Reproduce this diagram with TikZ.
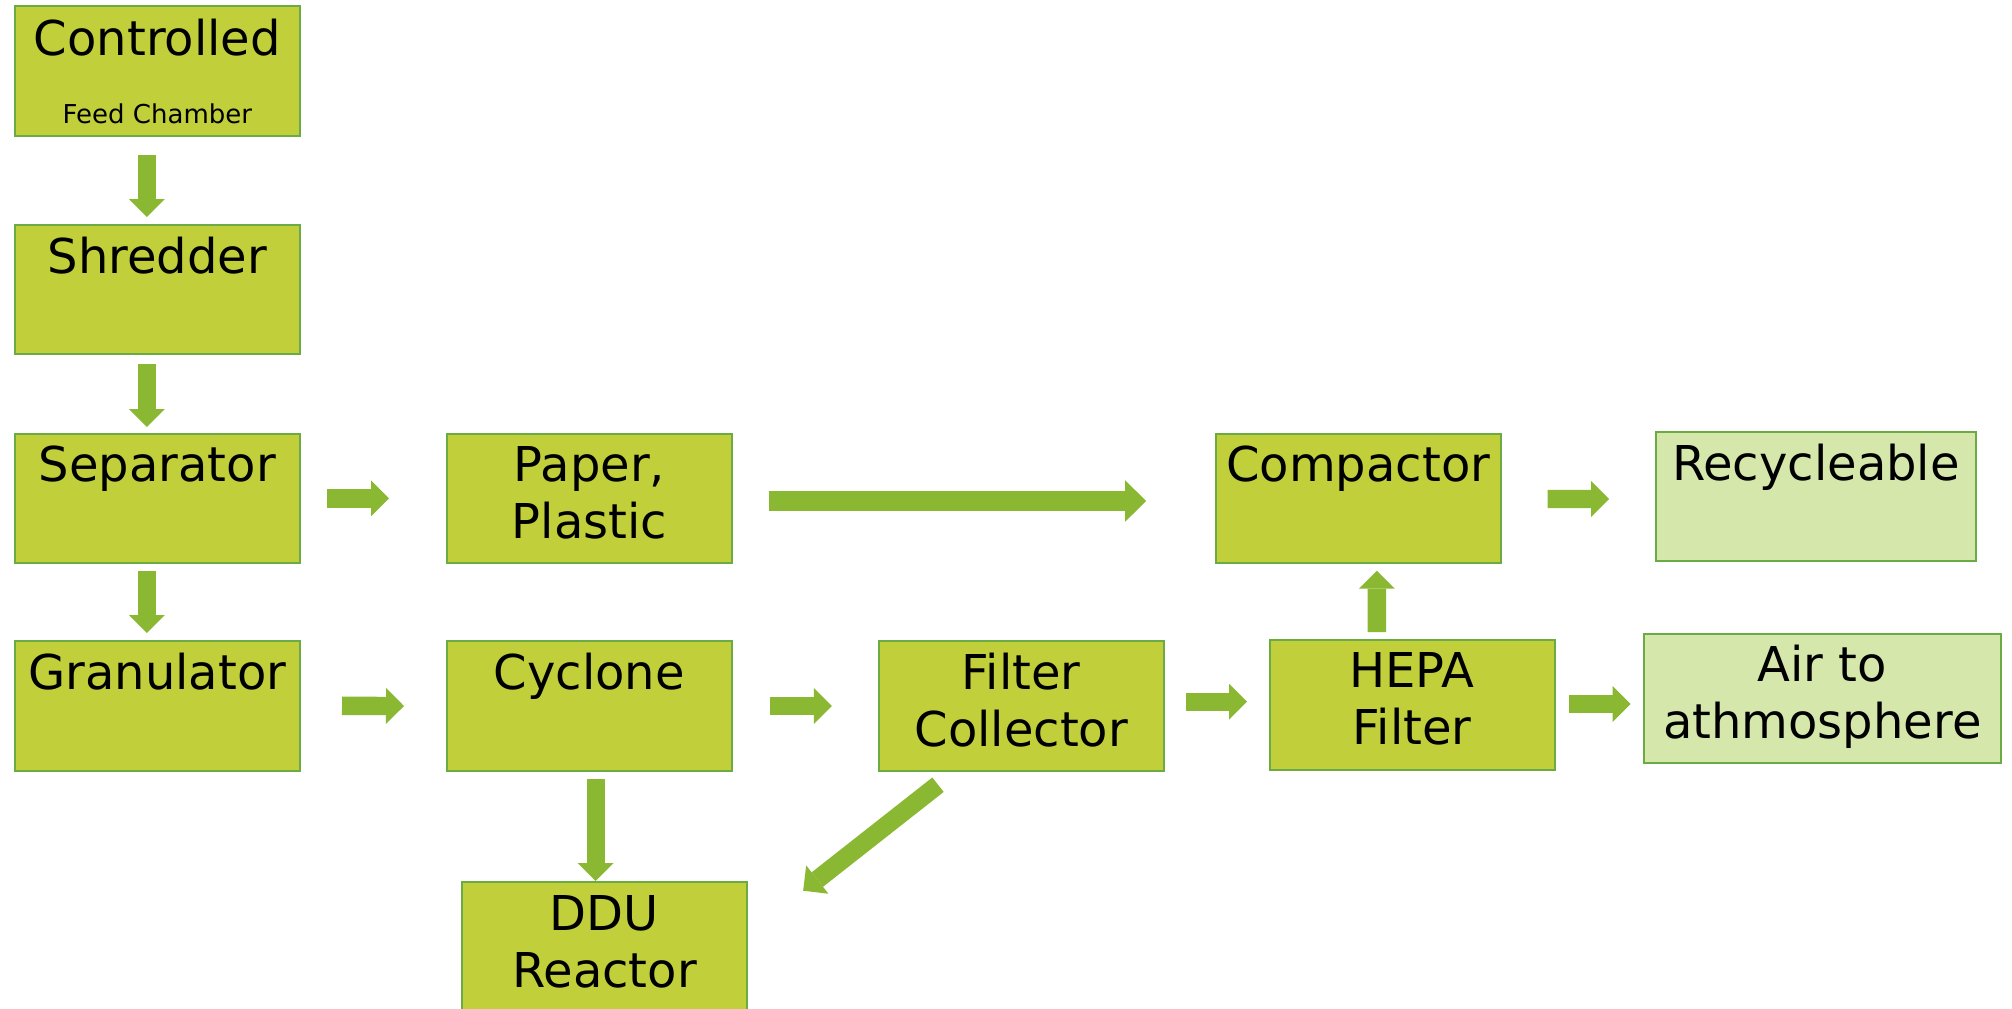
\documentclass[tikz,border=0pt]{standalone}
\usepackage{fontspec}
\setmainfont{DejaVu Sans}
\usetikzlibrary{arrows.meta,calc}
\definecolor{boxfill}{HTML}{C0CF3A}
\definecolor{boxline}{HTML}{6AAB44}
\definecolor{lightfill}{HTML}{D5E7AB}
\definecolor{arrowc}{HTML}{8BB833}
\begin{document}
\begin{tikzpicture}[x=0.5pt,y=0.5pt,
  procbox/.style={draw=boxline, fill=boxfill, line width=1pt, inner sep=0pt,
    minimum width=142.65pt, minimum height=65pt},
  lightbox/.style={procbox, fill=lightfill},
  lbl/.style={anchor=base, inner sep=0pt, align=center,
    font=\fontsize{24pt}{28.5pt}\selectfont},
  smalllbl/.style={anchor=base, inner sep=0pt, font=\fontsize{13pt}{15pt}\selectfont},
  barrow/.style={draw=arrowc, line width=9.2pt,
    -{Triangle[length=9pt,width=18pt,line width=0pt]}},
  bigarrow/.style={draw=arrowc, line width=10pt,
    -{Triangle[length=10.5pt,width=20.8pt,line width=0pt]}}]
\useasboundingbox (0,0) rectangle (2012,-1008);
% boxes
\node[procbox] (ctrl) at (157.35,-70.7) {};
\node[procbox, minimum height=64.5pt] (shred) at (157.35,-289.5) {};
\node[procbox, minimum height=64.65pt] (sep) at (157.35,-498.35) {};
\node[procbox, minimum height=64.85pt] (gran) at (157.35,-705.85) {};
\node[procbox, minimum height=64.65pt] (paper) at (589.35,-498.35) {};
\node[procbox] (cyc) at (589.35,-706) {};
\node[procbox] (filt) at (1021.2,-706) {};
\node[procbox, minimum height=64.65pt] (comp) at (1358.25,-498.35) {};
\node[procbox, minimum width=142.4pt, minimum height=64.85pt] (hepa) at (1412.1,-704.85) {};
\node[lightbox, minimum width=159.9pt, minimum height=64.5pt] (recyc) at (1815.9,-496.2) {};
\node[lightbox, minimum width=178.35pt, minimum height=64.5pt] (air) at (1822.35,-698.5) {};
\node[procbox, minimum height=65pt] (ddu) at (604.5,-947.3) {};
% labels (multi-line labels are anchored at the baseline of their last line)
\node[lbl] (t-ctrl) at (157.35,-55) {Controlled};
\node[smalllbl] (t-feed) at (157.35,-123) {Feed Chamber};
\node[lbl] (t-shred) at (157.35,-273) {Shredder};
\node[lbl] (t-sep) at (157.35,-481.7) {Separator};
\node[lbl] (t-gran) at (157.35,-689) {Granulator};
\node[lbl] (t-paper) at (589.35,-538.7) {Paper,\\Plastic};
\node[lbl] (t-cyc) at (589.35,-689) {Cyclone};
\node[lbl] (t-filt) at (1021.2,-746) {Filter\\Collector};
\node[lbl] (t-comp) at (1358.25,-481.7) {Compactor};
\node[lbl] (t-hepa) at (1412.1,-744.7) {HEPA\\Filter};
\node[lbl] (t-recyc) at (1815.9,-480) {Recycleable};
\node[lbl] (t-air) at (1822.35,-738) {Air to\\athmosphere};
\node[lbl] (t-ddu) at (604.5,-987.7) {DDU\\Reactor};
% arrows
\draw[barrow] ($(ctrl.south)+(-10.5,-18.3)$) -- ($(shred.north)+(-10.5,7)$);
\draw[barrow] ($(shred.south)+(-10.5,-9)$) -- ($(sep.north)+(-10.5,5.7)$);
\draw[barrow] ($(sep.south)+(-10.5,-7)$) -- ($(gran.north)+(-10.5,7)$);
\draw[barrow] ($(sep.east)+(26,0)$) -- ($(paper.west)+(-56.7,0)$);
\draw[barrow] ($(gran.east)+(41,0)$) -- ($(cyc.west)+(-41.7,0)$);
\draw[bigarrow] ($(paper.east)+(35.8,-2.65)$) -- ($(comp.west)+(-68.5,-2.65)$);
\draw[barrow] ($(cyc.east)+(36.8,0)$) -- ($(filt.west)+(-45.7,0)$);
\draw[barrow] ($(filt.east)+(20.9,4.3)$) -- ($(hepa.west)+(-21.7,3.15)$);
\draw[barrow] ($(hepa.north)+(-35.3,7)$) -- ($(comp.south)+(18.55,-6.7)$);
\draw[barrow] ($(comp.east)+(45.6,-0.65)$) -- ($(recyc.west)+(-46,-2.8)$);
\draw[barrow] ($(hepa.east)+(13.3,0.85)$) -- ($(air.west)+(-12.5,-5.5)$);
\draw[barrow] ($(cyc.south)+(6.35,-6.7)$) -- ($(ddu.north)+(-8.8,0.3)$);
\draw[barrow] ($(filt.south)+(-83.2,-12.7)$) -- ($(ddu.north east)+(55,-9.4)$);
\end{tikzpicture}
\end{document}
